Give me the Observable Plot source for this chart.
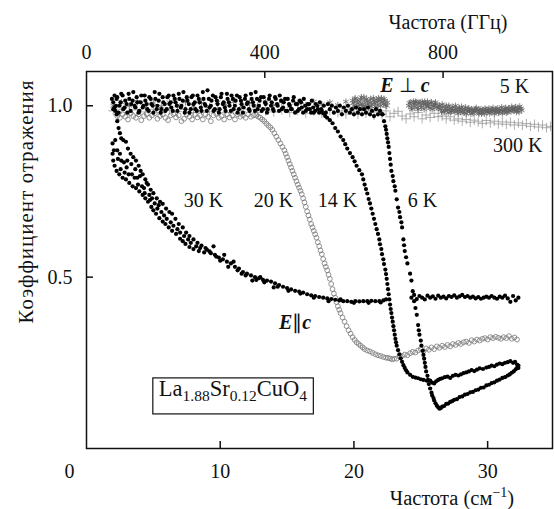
<!DOCTYPE html>
<html><head><meta charset="utf-8">
<script src="https://cdn.jsdelivr.net/npm/d3@7"></script>
<script src="https://cdn.jsdelivr.net/npm/@observablehq/plot@0.6"></script>
<style>body{margin:0;background:#fff} svg{display:block}</style>
</head><body><div id="chart"></div>
<script>
// ---- axes ----
const xTicks = [10, 20, 30];          // см^-1
const ghzTicks = [0, 400, 800];       // ГГц (top axis)
const GHZ_PER_CM = 30;
const yTicks = [0.5, 1.0];

// ---- data: [frequency (см^-1), reflection coefficient] ----
const s300K = [[2.0,0.985],[2.6,0.99],[3.2,0.98],[3.8,0.988],[4.4,0.982],[5.0,0.99],[5.6,0.98],[6.2,0.987],[6.8,0.983],[7.4,0.99],[8.0,0.98],[8.6,0.986],[9.2,0.982],[9.8,0.99],[10.4,0.98],[11.0,0.988],[11.6,0.982],[12.2,0.99],[12.8,0.98],[13.4,0.986],[14.0,0.982],[14.6,0.988],[15.2,0.98],[15.8,0.986],[16.4,0.978],[17.0,0.985],[17.6,0.978],[18.2,0.986],[18.8,0.98],
 [19.1,0.985],[19.4,0.976],[19.7,0.99],[20.0,0.982],[20.3,0.975],[20.6,0.988],[20.9,0.978],[21.2,0.985],[21.5,0.972],[21.8,0.982],[22.1,0.975],[22.4,0.985],[22.7,0.968],[23.0,0.978],[23.3,0.984],[23.6,0.97],[23.9,0.962],[24.2,0.976],[24.5,0.968],[24.8,0.98],[25.1,0.962],[25.4,0.973],[25.7,0.966],[26.0,0.978],[26.3,0.968],
 [26.6,0.97],[26.9,0.962],[27.2,0.968],[27.5,0.958],[27.8,0.962],[28.1,0.955],[28.4,0.96],[28.7,0.952],[29.0,0.958],[29.3,0.953],[29.6,0.948],[29.9,0.957],[30.2,0.95],[30.5,0.955],[30.8,0.947],[31.1,0.953],[31.4,0.946],[31.7,0.952],[32.0,0.944],[32.3,0.95],[32.6,0.943],[32.9,0.948],[33.2,0.94],[33.5,0.946],[33.8,0.938],[34.1,0.944],[34.4,0.936],[34.7,0.94]];

const s5K = [[2.0,1.0],[2.6,1.01],[3.2,1.0],[3.8,1.012],[4.4,1.0],[5.0,1.008],[5.6,0.998],[6.2,1.01],[6.8,1.002],[7.4,1.012],[8.0,1.0],[8.6,1.008],[9.2,0.998],[9.8,1.01],[10.4,1.003],[11.0,1.012],[11.6,1.0],[12.2,1.008],[12.8,1.0],[13.4,1.01],[14.0,1.002],[14.6,1.012],[15.2,1.0],[15.8,1.008],[16.4,1.002],[17.0,1.012],[17.6,1.004],[18.2,1.01],[18.8,1.002],[19.4,1.012],
 [19.9,1.015],[20.0,1.0],[20.1,1.022],[20.25,1.008],[20.35,0.998],[20.5,1.018],[20.6,1.005],[20.75,1.025],[20.85,1.0],[21.0,1.012],[21.1,0.995],[21.25,1.02],[21.35,1.005],[21.5,1.015],[21.6,0.998],[21.75,1.01],[21.85,1.022],[22.0,1.0],[22.1,1.012],[22.25,1.02],[22.35,1.002],[22.5,1.01],
 [19.95,1.008],[20.05,1.018],[20.2,0.996],[20.3,1.015],[20.45,1.004],[20.55,1.025],[20.7,1.0],[20.8,1.015],[20.95,1.02],[21.05,1.005],[21.2,1.01],[21.3,0.998],[21.45,1.022],[21.55,1.008],[21.7,1.018],[21.8,1.0],[21.95,1.015],[22.05,1.022],[22.2,1.005],[22.3,1.015],[22.45,1.0],
 [24.1,1.0],[24.25,1.01],[24.35,0.99],[24.5,1.005],[24.6,1.012],[24.75,0.995],[24.85,1.008],[25.0,1.0],[25.1,1.012],[25.25,0.99],[25.35,1.005],[25.5,1.012],[25.6,0.998],[25.75,1.008],[25.85,0.99],[26.0,1.002],[26.1,1.01],
 [24.15,1.008],[24.3,0.995],[24.45,1.012],[24.55,0.998],[24.7,1.01],[24.8,0.99],[24.95,1.01],[25.05,0.995],[25.2,1.005],[25.3,1.012],[25.45,0.998],[25.55,1.005],[25.7,0.993],[25.8,1.01],[25.95,0.998],[26.05,1.005],[26.2,0.995],
 [26.3,0.992],[26.4,1.0],[26.55,0.982],[26.65,0.997],[26.8,0.987],[26.9,1.0],[27.05,0.98],[27.15,0.992],[27.3,0.985],[27.4,0.997],[27.55,0.982],[27.65,0.992],[27.8,0.978],[27.9,0.99],[28.05,0.997],[28.15,0.982],[28.3,0.99],[28.4,0.977],[28.55,0.992],[28.65,0.984],[28.8,0.99],[28.9,0.978],[29.05,0.987],[29.15,0.994],[29.3,0.98],[29.4,0.988],[29.55,0.977],[29.65,0.987],[29.8,0.992],[29.9,0.982],[30.05,0.988],[30.15,0.978],[30.3,0.987],[30.4,0.994],[30.55,0.982],[30.65,0.99],[30.8,0.979],[30.9,0.988],[31.05,0.996],[31.15,0.984],[31.3,0.99],[31.4,0.98],[31.55,0.992],[31.65,0.986],[31.8,0.997],[31.9,0.987],[32.05,0.994],[32.15,0.982],[32.3,0.992],[32.4,0.998],[32.55,0.987],
 [26.35,1.0],[26.5,0.99],[26.6,1.004],[26.75,0.982],[26.85,0.992],[27.0,0.988],[27.1,1.0],[27.25,0.982],[27.35,0.992],[27.5,0.987],[27.6,1.0],[27.75,0.984],[27.85,0.994],[28.0,0.982],[28.1,0.99],[28.25,0.98],[28.35,0.995],[28.5,0.984],[28.6,0.991],[28.75,0.977],[28.85,0.987],[29.0,0.982],[29.1,0.99],[29.25,0.987],[29.35,0.977],[29.5,0.99],[29.6,0.982],[29.75,0.977],[29.85,0.988],[30.0,0.982],[30.1,0.992],[30.25,0.982],[30.35,0.988],[30.5,0.977],[30.6,0.987],[30.75,0.992],[30.85,0.982],[31.0,0.988],[31.1,0.978],[31.25,0.986],[31.35,0.994],[31.5,0.982],[31.6,0.992],[31.75,0.984],[31.85,0.992],[32.0,0.986],[32.1,0.996],[32.25,0.987],[32.35,0.982],[32.5,0.992]];

const s20K = [[2.3,0.97],[2.5,0.965],[2.7,0.975],[2.9,0.968],[3.1,0.96],[3.3,0.978],[3.5,0.97],[3.7,0.965],[3.9,0.975],[4.1,0.958],[4.3,0.97],[4.5,0.976],[4.7,0.965],[4.9,0.972],[5.1,0.978],[5.3,0.962],[5.5,0.97],[5.7,0.975],[5.9,0.965],[6.1,0.958],[6.3,0.972],[6.5,0.976],[6.7,0.966],[6.9,0.972],[7.1,0.955],[7.3,0.962],[7.5,0.975],[7.7,0.968],[7.9,0.96],[8.1,0.974],[8.3,0.966],[8.5,0.972],[8.7,0.96],[8.9,0.975],[9.1,0.968],[9.3,0.955],[9.5,0.972],[9.7,0.977],[9.9,0.965],[10.1,0.97],[10.3,0.96],[10.5,0.975],[10.7,0.966],[10.9,0.972],[11.1,0.96],[11.3,0.975],[11.5,0.968],[11.7,0.972],[11.9,0.965],[12.1,0.975],[12.3,0.968],[12.5,0.972],
 [12.7,0.973],[12.85,0.968],[13.0,0.965],[13.15,0.96],[13.3,0.955],[13.45,0.948],[13.6,0.942],[13.75,0.937],[13.9,0.93],[14.05,0.92],[14.2,0.91],[14.35,0.9],[14.5,0.89],[14.65,0.88],[14.8,0.87],[14.9,0.86],[15.0,0.85],[15.1,0.84],[15.2,0.83],[15.3,0.82],[15.4,0.81],[15.5,0.8],[15.6,0.79],[15.7,0.78],[15.8,0.77],[15.9,0.761],[16.0,0.752],[16.1,0.742],[16.2,0.73],[16.3,0.718],[16.4,0.705],[16.5,0.692],[16.6,0.68],[16.7,0.668],[16.8,0.655],[16.9,0.645],[17.0,0.635],[17.1,0.625],[17.2,0.615],[17.3,0.602],[17.4,0.59],[17.5,0.578],[17.6,0.567],[17.7,0.553],[17.8,0.54],[17.9,0.53],[18.0,0.52],[18.1,0.507],[18.2,0.495],[18.3,0.48],[18.4,0.465],[18.5,0.452],[18.6,0.44],[18.7,0.427],[18.8,0.415],[18.9,0.405],[19.0,0.395],[19.15,0.382],[19.3,0.37],[19.45,0.357],[19.6,0.345],[19.75,0.335],[19.9,0.325],[20.05,0.317],[20.2,0.31],[20.35,0.305],[20.5,0.3],[20.65,0.295],[20.8,0.29],[21.0,0.286],[21.2,0.283],[21.4,0.279],[21.6,0.275],[21.8,0.272],[22.0,0.27],[22.2,0.267],[22.4,0.265],[22.55,0.264],[22.7,0.263],[22.85,0.26],[23.0,0.262],
 [23.2,0.262],[23.4,0.268],[23.6,0.27],[23.8,0.274],[24.0,0.272],[24.2,0.278],[24.4,0.282],[24.6,0.28],[24.8,0.286],[25.0,0.29],[25.2,0.284],[25.4,0.292],[25.6,0.288],[25.8,0.295],[26.0,0.29],[26.2,0.298],[26.4,0.294],[26.6,0.3],[26.8,0.296],[27.0,0.302],[27.2,0.298],[27.4,0.305],[27.6,0.302],[27.8,0.308],[28.0,0.305],[28.2,0.31],[28.4,0.312],[28.6,0.308],[28.8,0.316],[29.0,0.312],[29.2,0.318],[29.4,0.315],[29.6,0.32],[29.8,0.322],[30.0,0.318],[30.2,0.325],[30.4,0.322],[30.6,0.326],[30.8,0.323],[31.0,0.32],[31.2,0.325],[31.4,0.322],[31.6,0.328],[31.8,0.32],[32.0,0.324],[32.2,0.318]];

const s30K = [[1.9,1.02],[2.0,0.99],[2.1,1.03],[2.2,1.0],[2.25,0.975],
 [2.3,0.955],[2.4,0.935],[2.5,0.92],[2.6,0.905],[2.75,0.9],[2.95,0.895],[3.1,0.875],[3.3,0.86],[3.5,0.85],[3.7,0.84],[3.9,0.825],[4.05,0.81],[4.2,0.8],[4.4,0.785],[4.6,0.77],[4.8,0.755],[5.0,0.745],[5.25,0.73],[5.5,0.72],[5.7,0.714],[5.95,0.7],[6.2,0.69],[6.4,0.685],[6.65,0.67],[6.9,0.655],[7.2,0.645],[7.45,0.63],[7.7,0.62],[8.0,0.61],[8.3,0.6],[8.6,0.592],
 [1.95,0.89],[1.95,0.86],[2.0,0.84],[2.1,0.825],[2.25,0.81],[2.45,0.8],[2.7,0.79],[2.95,0.785],[3.2,0.775],[3.45,0.765],[3.7,0.76],[3.95,0.75],[4.2,0.74],[4.4,0.73],[4.6,0.72],[4.85,0.705],[5.0,0.695],[5.2,0.685],[5.45,0.672],[5.7,0.662],[5.9,0.655],[6.15,0.645],[6.4,0.635],[6.7,0.626],[7.0,0.612],[7.2,0.605],[7.4,0.597],[7.7,0.588],[8.0,0.582],[8.4,0.576],[8.8,0.572],
 [2.3,0.87],[2.6,0.84],[3.0,0.82],[3.4,0.8],[3.8,0.79],[4.3,0.76],[4.9,0.73],[5.6,0.69],[6.3,0.66],[7.0,0.63],[7.8,0.6],
 [2.05,0.87],[2.15,0.9],[2.35,0.845],[2.5,0.86],[2.55,0.815],[2.8,0.835],[2.85,0.805],[3.05,0.84],[3.15,0.8],[3.35,0.83],[3.6,0.79],[3.65,0.815],[3.85,0.77],[4.0,0.795],[4.15,0.765],[4.35,0.745],[4.5,0.775],[4.7,0.74],[4.75,0.725],[5.1,0.715],[5.3,0.7],[5.4,0.71],[5.8,0.68],[6.0,0.67],[6.5,0.65],[6.8,0.64],[7.3,0.62],[7.6,0.61],[8.2,0.59],[8.5,0.585],[8.9,0.585],[9.2,0.575],[9.7,0.56],[10.0,0.548],[10.6,0.53],[11.3,0.52],[11.9,0.505],[12.7,0.492],[13.3,0.485],[14.3,0.472],[15.1,0.46],[16.0,0.452],[17.0,0.44],[18.1,0.43],[19.0,0.435],[20.0,0.425],[21.1,0.425],[22.0,0.426],
 [9.0,0.58],[9.3,0.57],[9.6,0.565],[9.9,0.557],[10.2,0.552],[10.5,0.545],[10.8,0.54],[11.1,0.53],[11.4,0.525],[11.7,0.515],[12.0,0.51],[12.3,0.505],[12.6,0.5],[12.9,0.497],[13.2,0.492],[13.5,0.49],[13.8,0.487],[14.1,0.482],[14.4,0.477],[14.7,0.472],[15.0,0.468],[15.3,0.464],[15.6,0.46],[15.9,0.458],[16.2,0.455],[16.5,0.45],[16.8,0.447],[17.1,0.445],[17.4,0.442],[17.7,0.44],[18.0,0.438],[18.3,0.436],[18.6,0.434],[18.9,0.432],[19.2,0.43],[19.5,0.43],[19.8,0.428],[20.1,0.43],[20.4,0.429],[20.7,0.43],[21.0,0.43],[21.3,0.431],[21.6,0.43],[21.9,0.43],[22.2,0.432],[22.4,0.435],
 [9.5,0.59],[10.3,0.565],[11.0,0.545],[11.6,0.51],[12.4,0.49],[13.0,0.5],[14.0,0.47],
 [24.3,0.44],[24.5,0.448],[24.7,0.436],[24.9,0.445],[25.1,0.44],[25.3,0.435],[25.5,0.446],[25.7,0.44],[25.9,0.444],[26.1,0.437],[26.3,0.446],[26.5,0.44],[26.7,0.443],[26.9,0.438],[27.1,0.445],[27.3,0.442],[27.5,0.447],[27.7,0.44],[27.9,0.444],[28.1,0.448],[28.3,0.442],[28.5,0.445],[28.7,0.44],[28.9,0.443],[29.1,0.438],[29.3,0.442],[29.5,0.437],[29.7,0.44],[29.9,0.443],[30.1,0.44],[30.3,0.445],[30.5,0.44],[30.7,0.437],[30.9,0.443],[31.1,0.44],[31.3,0.446],[31.5,0.438],[31.7,0.428],[31.9,0.445],[32.1,0.432],[32.3,0.44]];

const s14K = [[2.1,0.995],[2.25,1.02],[2.4,0.98],[2.55,1.01],[2.7,1.03],[2.85,0.995],[3.0,1.005],[3.15,1.035],[3.3,0.985],[3.45,1.015],[3.6,1.0],[3.75,1.025],[3.9,0.98],[4.05,1.01],[4.2,0.995],[4.35,1.03],[4.5,1.005],[4.65,0.985],[4.8,1.02],[4.95,1.0],[5.1,1.04],[5.25,0.99],[5.4,1.015],[5.55,0.98],[5.7,1.025],[5.85,1.005],[6.0,0.99],[6.15,1.03],[6.3,1.01],[6.45,0.985],[6.6,1.02],[6.75,1.0],[6.9,1.035],[7.05,0.995],[7.2,1.015],[7.35,0.98],[7.5,1.025],[7.65,1.005],[7.8,0.99],[7.95,1.03],[8.1,1.01],[8.25,0.985],[8.4,1.02],[8.55,0.995],[8.7,1.04],[8.85,1.005],[9.0,0.985],[9.15,1.02],[9.3,1.0],[9.45,1.03],[9.6,0.99],[9.75,1.015],[9.9,0.98],[10.05,1.025],[10.2,1.005],[10.35,0.995],[10.5,1.035],[10.65,1.01],[10.8,0.985],[10.95,1.02],[11.1,1.0],[11.25,1.03],[11.4,0.99],[11.55,1.015],[11.7,0.98],[11.85,1.02],[12.0,1.005],[12.15,0.99],[12.3,1.035],[12.45,1.01],[12.6,0.985],[12.75,1.02],[12.9,1.0],[13.05,1.025],[13.2,0.99],[13.35,1.01],[13.5,0.98],[13.65,1.02],[13.8,1.0],[13.95,0.99],[14.1,1.025],[14.25,1.005],[14.4,0.985],[14.55,1.015],[14.7,0.995],[14.85,1.02],[15.0,0.985],[15.15,1.005],[15.3,0.99],[15.45,1.015],[15.6,0.98],[15.75,1.005],[15.9,0.99],[16.05,1.01],[16.2,0.98],[16.35,1.0],[16.5,0.99],[16.65,1.005],[16.8,0.98],[16.95,0.995],[17.1,0.985],[17.25,1.0],[17.4,0.98],[17.55,0.99],
 [17.7,0.978],[17.85,0.97],[18.0,0.965],[18.2,0.958],[18.4,0.949],[18.6,0.935],[18.8,0.925],[19.0,0.91],[19.2,0.9],[19.35,0.888],[19.5,0.875],[19.7,0.862],[19.9,0.85],[20.05,0.838],[20.2,0.825],[20.4,0.812],[20.6,0.8],[20.7,0.785],[20.8,0.77],[20.9,0.757],[21.0,0.744],[21.1,0.728],[21.2,0.715],[21.3,0.7],[21.4,0.685],[21.5,0.67],[21.6,0.655],[21.7,0.64],[21.8,0.626],[21.9,0.61],[21.95,0.596],[22.05,0.582],[22.1,0.567],[22.2,0.552],[22.25,0.538],[22.35,0.522],[22.4,0.509],[22.45,0.495],[22.5,0.48],[22.55,0.465],[22.6,0.45],[22.65,0.435],[22.7,0.42],[22.75,0.407],[22.8,0.395],[22.85,0.382],[22.9,0.37],[22.95,0.357],[23.0,0.345],[23.05,0.332],[23.1,0.32],[23.15,0.31],[23.2,0.3],[23.3,0.287],[23.4,0.275],[23.5,0.263],[23.6,0.253],[23.7,0.243],[23.8,0.235],[23.9,0.228],[24.0,0.222],[24.2,0.215],[24.4,0.209],[24.6,0.207],[24.8,0.205],[25.0,0.202],[25.2,0.2],[25.45,0.198],[25.7,0.198],[25.85,0.192],[26.0,0.19],[26.15,0.196],[26.3,0.2],[26.45,0.203],[26.6,0.205],[26.8,0.208],[27.0,0.21],[27.2,0.206],[27.4,0.212],[27.6,0.215],[27.8,0.213],[28.0,0.216],[28.2,0.22],[28.4,0.222],[28.6,0.225],[28.8,0.229],[29.0,0.226],[29.2,0.23],[29.4,0.234],[29.65,0.232],[29.9,0.236],[30.1,0.238],[30.3,0.242],[30.5,0.24],[30.7,0.245],[30.9,0.248],[31.1,0.246],[31.3,0.25],[31.5,0.252],[31.7,0.255],[31.9,0.25],[32.05,0.253],[32.2,0.245],[32.3,0.235]];

const s6K = [[2.0,1.01],[2.15,0.985],[2.3,1.025],[2.45,1.0],[2.6,1.035],[2.75,0.99],[2.9,1.015],[3.05,0.98],[3.2,1.02],[3.35,1.005],[3.5,1.04],[3.65,0.995],[3.8,1.01],[3.95,0.985],[4.1,1.03],[4.25,1.0],[4.4,1.015],[4.55,0.99],[4.7,1.025],[4.85,1.005],[5.0,0.98],[5.15,1.02],[5.3,1.0],[5.45,1.035],[5.6,0.99],[5.75,1.01],[5.9,0.985],[6.05,1.025],[6.2,1.005],[6.35,0.995],[6.5,1.03],[6.65,1.01],[6.8,0.985],[6.95,1.02],[7.1,1.0],[7.25,1.04],[7.4,0.99],[7.55,1.015],[7.7,0.98],[7.85,1.025],[8.0,1.005],[8.15,0.99],[8.3,1.03],[8.45,1.01],[8.6,0.985],[8.75,1.02],[8.9,1.0],[9.05,1.045],[9.2,0.995],[9.35,1.015],[9.5,0.985],[9.65,1.025],[9.8,1.005],[9.95,0.99],[10.1,1.035],[10.25,1.01],[10.4,0.985],[10.55,1.02],[10.7,1.0],[10.85,1.03],[11.0,0.99],[11.15,1.015],[11.3,0.98],[11.45,1.025],[11.6,1.005],[11.75,0.995],[11.9,1.03],[12.05,1.01],[12.2,0.985],[12.35,1.02],[12.5,1.0],[12.65,1.04],[12.8,0.99],[12.95,1.015],[13.1,0.985],[13.25,1.025],[13.4,1.005],[13.55,0.99],[13.7,1.03],[13.85,1.01],[14.0,0.985],[14.15,1.02],[14.3,1.0],[14.45,1.03],[14.6,0.99],[14.75,1.01],[14.9,0.985],[15.05,1.02],[15.2,1.0],[15.35,0.99],[15.5,1.025],[15.65,1.005],[15.8,0.985],[15.95,1.015],[16.1,0.995],[16.25,1.02],[16.4,0.985],[16.55,1.005],[16.7,0.99],[16.85,1.015],[17.0,0.98],[17.15,1.005],[17.3,0.99],[17.45,1.01],[17.6,0.985],[17.75,1.0],[17.9,0.98],[18.05,1.005],[18.2,0.99],[18.35,1.0],[18.5,0.98],[18.65,0.995],[18.8,0.985],[18.95,1.0],[19.1,0.975],[19.25,0.995],[19.4,0.985],[19.55,1.0],[19.7,0.98],[19.85,0.99],[20.0,0.975],[20.15,0.995],[20.3,0.98],[20.45,0.99],[20.6,0.975],[20.75,0.99],[20.9,0.98],[21.05,0.995],[21.2,0.975],[21.35,0.985],[21.5,0.97],[21.65,0.99],[21.8,0.975],[21.95,0.985],[22.1,0.975],
 [22.15,0.975],[22.25,0.955],[22.35,0.94],[22.4,0.93],[22.45,0.918],[22.5,0.905],[22.55,0.893],[22.6,0.88],[22.65,0.862],[22.7,0.845],[22.75,0.828],[22.8,0.81],[22.9,0.795],[22.95,0.78],[23.05,0.765],[23.1,0.752],[23.2,0.727],[23.3,0.703],[23.4,0.69],[23.45,0.675],[23.55,0.66],[23.6,0.645],[23.7,0.61],[23.75,0.593],[23.8,0.576],[23.9,0.558],[24.0,0.54],[24.2,0.51],[24.3,0.49],[24.4,0.459],[24.5,0.43],[24.6,0.41],[24.7,0.39],[24.8,0.36],[24.85,0.345],[24.9,0.332],[25.0,0.315],[25.05,0.3],[25.15,0.285],[25.2,0.273],[25.25,0.262],[25.3,0.25],[25.35,0.238],[25.4,0.225],[25.5,0.212],[25.55,0.2],[25.6,0.188],[25.7,0.175],[25.8,0.163],[25.85,0.155],[25.95,0.147],[26.0,0.14],[26.1,0.132],[26.2,0.125],[26.3,0.12],[26.4,0.116],[26.5,0.118],[26.6,0.122],[26.75,0.124],[26.9,0.13],[27.05,0.131],[27.2,0.136],[27.35,0.138],[27.5,0.142],[27.7,0.144],[27.9,0.15],[28.1,0.152],[28.3,0.157],[28.5,0.159],[28.7,0.164],[28.9,0.165],[29.1,0.17],[29.3,0.172],[29.5,0.177],[29.7,0.178],[29.9,0.184],[30.1,0.186],[30.3,0.191],[30.5,0.193],[30.7,0.198],[30.9,0.201],[31.1,0.206],[31.3,0.208],[31.5,0.213],[31.65,0.216],[31.8,0.221],[31.95,0.225],[32.1,0.231],[32.2,0.235],[32.3,0.242]];

// ---- labels (data coordinates) ----
const tempLabels = [
  {text: "30 K", x: 8.75, y: 0.724},
  {text: "20 K", x: 13.98, y: 0.724},
  {text: "14 K", x: 18.77, y: 0.724},
  {text: "6 K", x: 25.13, y: 0.724},
  {text: "5 K", x: 32.0, y: 1.056},
  {text: "300 K", x: 32.24, y: 0.884}
];
const perpLabel = {x: 23.85, y: 1.056};
const parLabel = {x: 15.63, y: 0.365};
const formulaLabel = {x: 10.99, y: 0.152};

const F = "'Liberation Serif','Times New Roman',serif";
const X = d => d[0], Y = d => d[1];

const chart = Plot.plot({
  width: 554, height: 509,
  marginLeft: 86, marginRight: 2, marginTop: 71, marginBottom: 61,
  style: {fontFamily: F, fontSize: "20px", color: "#111", background: "#fff", overflow: "visible"},
  x: {domain: [0, 34.85]},
  y: {domain: [0, 1.1]},
  marks: [
    Plot.dot(s300K, {x: X, y: Y, symbol: "plus", r: 3.2, stroke: "#9a9a9a", strokeWidth: 0.8, clip: true}),
    Plot.dot(s5K, {x: X, y: Y, symbol: "asterisk", r: 3.1, stroke: "#5e5e5e", strokeOpacity: 0.85, strokeWidth: 0.9, clip: true}),
    Plot.dot(s20K, {x: X, y: Y, symbol: "circle", r: 2.4, stroke: "#777", strokeWidth: 0.8, fill: "none", clip: true}),
    Plot.dot(s30K, {x: X, y: Y, r: 2.1, fill: "#000", clip: true}),
    Plot.dot(s14K, {x: X, y: Y, r: 2.1, fill: "#000", clip: true}),
    Plot.dot(s6K, {x: X, y: Y, r: 2.1, fill: "#000", clip: true}),
    Plot.frame({stroke: "#111", strokeWidth: 1.5}),
    Plot.tickX(xTicks, {x: d => d, insetTop: 370, stroke: "#111", strokeWidth: 1.5}),
    Plot.tickX(ghzTicks.slice(1).map(g => g / GHZ_PER_CM), {x: d => d, insetBottom: 370, stroke: "#111", strokeWidth: 1.5}),
    Plot.tickY(yTicks, {y: d => d, insetRight: 459, stroke: "#111", strokeWidth: 1.5}),
    Plot.axisX(xTicks, {tickSize: 0, tickPadding: 15, label: null, fill: "#111"}),
    Plot.axisX([0], {tickSize: 0, tickPadding: 15, dx: -17, label: null, fill: "#111"}),
    Plot.axisX(ghzTicks.map(g => g / GHZ_PER_CM), {anchor: "top", tickSize: 0, tickPadding: 13, label: null, fill: "#111",
      tickFormat: d => String(Math.round(d * GHZ_PER_CM))}),
    Plot.axisY(yTicks, {tickSize: 0, tickPadding: 14, label: null, fill: "#111", tickFormat: d3.format(".1f")}),
    Plot.text(tempLabels, {x: "x", y: "y", text: "text", fill: "#111", fontSize: 20})
  ]
});
document.getElementById("chart").appendChild(chart);

const sx = chart.scale("x"), sy = chart.scale("y");
const svg = d3.select(chart);
const g = svg.append("g").attr("font-family", F).attr("fill", "#111");

// E ⊥ c
const t1 = g.append("text").attr("x", sx.apply(perpLabel.x)).attr("y", sy.apply(perpLabel.y)).attr("dy", "0.32em")
  .attr("text-anchor", "middle").attr("font-size", 20);
t1.append("tspan").attr("font-weight", "bold").attr("font-style", "italic").text("E");
t1.append("tspan").text(" \u22A5 ");
t1.append("tspan").attr("font-weight", "bold").attr("font-style", "italic").text("c");

// E ∥ c
const t2 = g.append("text").attr("x", sx.apply(parLabel.x)).attr("y", sy.apply(parLabel.y)).attr("dy", "0.32em")
  .attr("text-anchor", "middle").attr("font-size", 20);
t2.append("tspan").attr("font-weight", "bold").attr("font-style", "italic").text("E");
t2.append("tspan").text("\u2225");
t2.append("tspan").attr("font-weight", "bold").attr("font-style", "italic").text("c");

// formula in a box
const fx = sx.apply(formulaLabel.x), fy = sy.apply(formulaLabel.y);
const t3 = g.append("text").attr("x", fx).attr("y", fy).attr("dy", "0.3em").attr("text-anchor", "middle").attr("font-size", 22.5);
const parts = [["La", 0], ["1.88", 1], ["Sr", 0], ["0.12", 1], ["CuO", 0], ["4", 1]];
let prevSub = 0;
for (const [s, sub] of parts) {
  const ts = t3.append("tspan").text(s);
  if (sub) ts.attr("font-size", 15.5).attr("dy", prevSub ? 0 : 5);
  else ts.attr("dy", prevSub ? -5 : 0);
  prevSub = sub;
}
const bb = t3.node().getBBox();
g.insert("rect", "text").attr("x", bb.x - 6).attr("y", fy - 18).attr("width", bb.width + 12).attr("height", 36)
  .attr("fill", "#fff").attr("stroke", "#111").attr("stroke-width", 1.2);

// axis titles
g.append("text").attr("x", 448).attr("y", 29).attr("text-anchor", "middle").attr("font-size", 20).text("Частота (ГГц)");
const t5 = g.append("text").attr("x", 452).attr("y", 505).attr("text-anchor", "middle").attr("font-size", 20.5);
t5.append("tspan").text("Частота (см");
t5.append("tspan").attr("font-size", 14).attr("dy", -8).text("\u22121");
t5.append("tspan").attr("dy", 8).text(")");
g.append("text").attr("transform", "translate(33,202) rotate(-90)").attr("text-anchor", "middle").attr("font-size", 20.5)
  .attr("textLength", 243).attr("lengthAdjust", "spacing").text("Коэффициент отражения");
</script>
</body></html>
